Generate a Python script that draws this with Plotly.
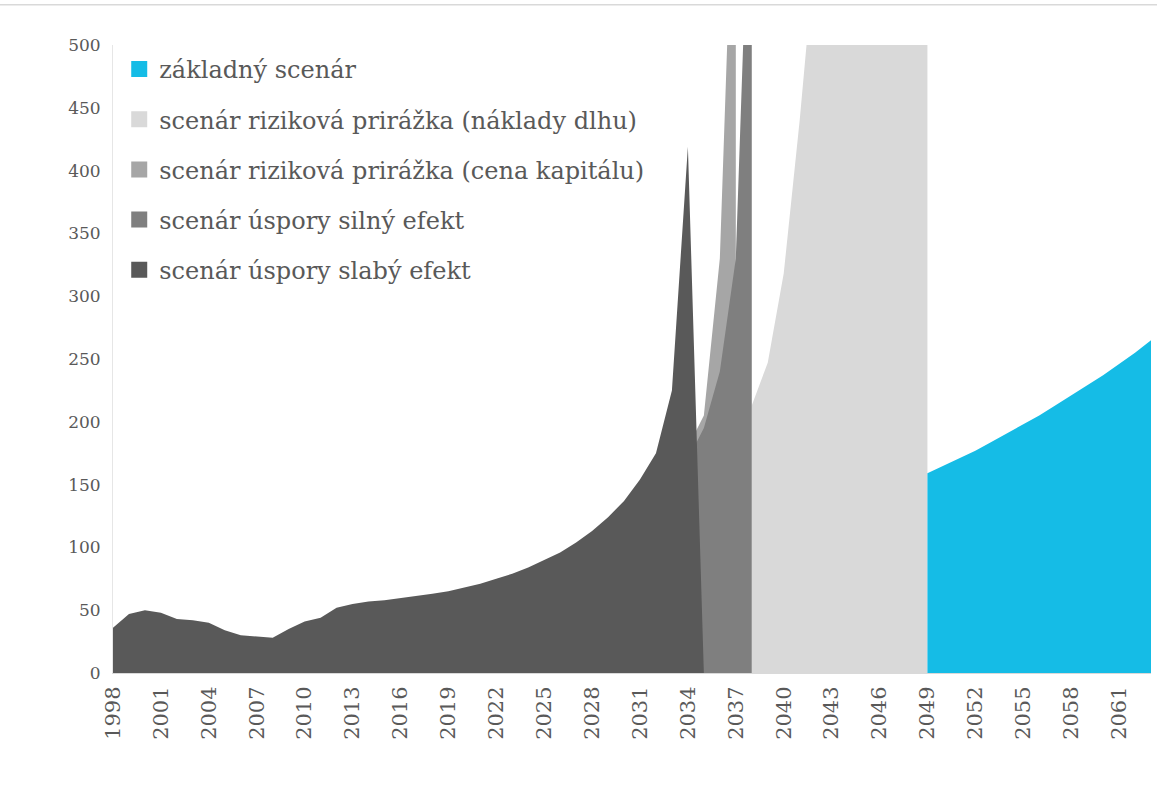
import plotly.graph_objects as go

# ---------------- data ----------------
years_slaby = list(range(1998, 2036))
slaby = [36, 47, 50, 48, 43, 42, 40, 34, 30, 29, 28, 35, 41, 44, 52, 55, 57, 58, 59.5, 61,
         63, 65, 68, 71, 75, 79, 84, 90, 96, 104, 113, 124, 137, 154, 175, 225, 419, 0]

years_silny = [2034, 2035, 2036, 2037, 2038]
silny = [170, 195, 240, 330, 700]

years_cena = [2034, 2035, 2036, 2037]
cena = [180, 205, 330, 700]

years_naklady = list(range(2038, 2050))
naklady = [213, 247, 318, 440, 580, 700, 850, 1000, 1200, 1400, 1700, 2000]

years_zaklad = list(range(2049, 2064))
zaklad = [159, 165, 171, 177, 184, 191, 198, 205, 213, 221, 229, 237, 246, 255, 265]

x_ticks = list(range(1998, 2062, 3))
y_ticks = list(range(0, 501, 50))

names = ["základný scenár",
         "scenár riziková prirážka (náklady dlhu)",
         "scenár riziková prirážka (cena kapitálu)",
         "scenár úspory silný efekt",
         "scenár úspory slabý efekt"]
colors = ["#15bce6", "#d9d9d9", "#a6a6a6", "#7f7f7f", "#595959"]

FONT = "DejaVu Serif"
TXT = "#595959"

fig = go.Figure()

# area series, drawn back to front
areas = [
    (years_naklady, naklady, colors[1]),
    (years_cena, cena, colors[2]),
    (years_silny, silny, colors[3]),
    (years_slaby, slaby, colors[4]),
    (years_zaklad, zaklad, colors[0]),
]
for xs, ys, c in areas:
    fig.add_trace(go.Scatter(x=xs, y=ys, mode="lines", line=dict(width=0, color=c),
                             fill="tozeroy", fillcolor=c, showlegend=False,
                             hoverinfo="x+y"))

# legend entries (square markers)
for i, (n, c) in enumerate(zip(names, colors)):
    fig.add_trace(go.Scatter(x=[None], y=[None], mode="markers", name=n,
                             marker=dict(symbol="square", size=16, color=c),
                             legendgroup=f"g{i}", showlegend=True))

fig.update_layout(
    width=1157, height=785,
    margin=dict(l=113, r=6, t=45, b=112),
    paper_bgcolor="white", plot_bgcolor="white",
    font=dict(family=FONT, color=TXT),
    showlegend=True,
    legend=dict(x=0.006, y=0.997, xanchor="left", yanchor="top",
                font=dict(family=FONT, size=24, color=TXT),
                tracegroupgap=16, bgcolor="rgba(0,0,0,0)",
                itemclick=False),
    xaxis=dict(range=[1998, 2063], tickmode="array", tickvals=x_ticks,
               ticktext=[str(v) for v in x_ticks], tickangle=-90,
               tickfont=dict(family=FONT, size=21, color=TXT),
               showgrid=False, zeroline=False, showline=True,
               linecolor="#d9d9d9", linewidth=1, ticks="", ticklabelstandoff=4),
    yaxis=dict(range=[0, 500], tickmode="array", tickvals=y_ticks,
               tickfont=dict(family=FONT, size=17, color=TXT),
               showgrid=False, zeroline=False, showline=True,
               linecolor="#e6e6e6", linewidth=1, ticks="", ticklabelstandoff=8),
    shapes=[dict(type="line", xref="paper", yref="paper",
                 x0=-0.109, x1=1.006, y0=1.064, y1=1.064,
                 line=dict(color="#d9d9d9", width=1.5))],
)

fig.write_html("out.html", config={"displayModeBar": False},
               post_script="document.body.style.margin='0px';")
